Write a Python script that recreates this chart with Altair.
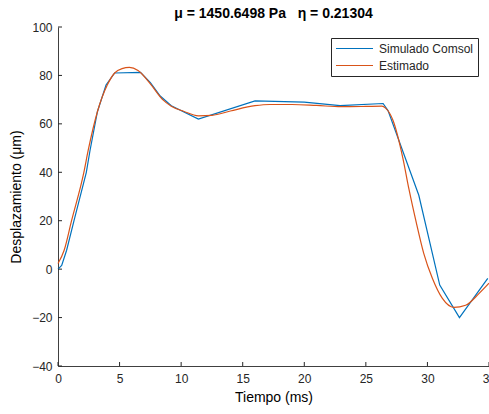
import altair as alt
import pandas as pd

# Simulated displacement (COMSOL), piecewise linear samples
sim_t = [0, 0.3, 0.7, 1.3, 2.3, 2.6, 3.2, 3.9, 4.6, 6.7, 7.5, 8.3, 9.2, 11.4,
         16.0, 20.0, 22.9, 26.4, 26.8, 29.3, 31.0, 32.6, 34.9]
sim_y = [0, 1.5, 7.8, 20, 40, 49, 65, 76, 81, 81.3, 77, 71.5, 67.5, 62,
         69.5, 69, 67.5, 68.4, 65.5, 30.5, -6.6, -20, -3.8]

# Estimated displacement (fitted model)
est_t = [0, 0.5, 1.1, 2.1, 2.45, 3.2, 4.0, 4.6, 5.2, 5.8, 6.5, 7.5, 8.5, 9.2,
         10.2, 11.4, 12.5, 14, 16, 17.2, 19, 21, 23, 25, 26.3, 26.6, 27.2, 28,
         28.5, 29.06, 29.7, 30.4, 31.2, 32.15, 33.1, 34.2, 35]
est_y = [2.3, 7.8, 20, 40, 49, 65, 76, 81, 82.8, 83.3, 82, 76.5, 70, 67.3,
         65.2, 63.3, 63.5, 65.3, 67.5, 68, 68, 67.6, 67.1, 67.2, 67.3, 66.5, 61.5, 46,
         33, 20, 6.5, -3.8, -12, -15.8, -14.9, -10, -5.8]

x_ticks = [0, 5, 10, 15, 20, 25, 30, 35]
y_ticks = [-40, -20, 0, 20, 40, 60, 80, 100]

series = ["Simulado Comsol", "Estimado"]
colors = ["#0072BD", "#D95319"]

W, H = 431, 339
FONT = "Liberation Sans"
AX = "#262626"

sim = pd.DataFrame({"t": sim_t, "d": sim_y, "serie": series[0]})
est = pd.DataFrame({"t": est_t, "d": est_y, "serie": series[1]})
xt = pd.DataFrame({"t": x_ticks})
yt = pd.DataFrame({"d": y_ticks})

x_scale = alt.Scale(domain=[0, 35], nice=False, zero=False)
y_scale = alt.Scale(domain=[-40, 100], nice=False, zero=False)

axis_style = dict(
    tickSize=0, grid=False, labelFlush=False,
    labelFont=FONT, labelFontSize=12, labelColor=AX,
    titleFont=FONT, titleFontSize=14, titleFontWeight="normal", titleColor="black",
    domainColor="#404040", domainWidth=1,
)
x_axis = alt.Axis(title="Tiempo (ms)", values=x_ticks, labelPadding=7,
                  titlePadding=6, **axis_style)
y_axis = alt.Axis(title="Desplazamiento (μm)", values=y_ticks, labelPadding=6,
                  titlePadding=8, **axis_style)

color = alt.Color(
    "serie:N",
    scale=alt.Scale(domain=series, range=colors),
    legend=alt.Legend(
        title=None, orient="none", legendX=273, legendY=11,
        symbolType="stroke", symbolSize=1369, symbolStrokeWidth=1.2,
        strokeColor=AX, fillColor="white", padding=4,
        labelFont=FONT, labelFontSize=12, labelColor=AX, labelOffset=5,
        clipHeight=13, rowPadding=4,
    ),
)

sim_line = alt.Chart(sim).mark_line(strokeWidth=1.2).encode(
    x=alt.X("t:Q", scale=x_scale, axis=x_axis),
    y=alt.Y("d:Q", scale=y_scale, axis=y_axis),
    color=color,
)

est_line = alt.Chart(est).mark_line(strokeWidth=1.2, interpolate="monotone").encode(
    x=alt.X("t:Q", scale=x_scale),
    y=alt.Y("d:Q", scale=y_scale),
    color=color,
)

# inward tick marks on both axes
x_tick_marks = alt.Chart(xt).mark_rule(color=AX, strokeWidth=1).encode(
    x=alt.X("t:Q", scale=x_scale),
    y=alt.value(H),
    y2=alt.value(H - 4),
)
y_tick_marks = alt.Chart(yt).mark_rule(color=AX, strokeWidth=1).encode(
    y=alt.Y("d:Q", scale=y_scale),
    x=alt.value(0),
    x2=alt.value(4),
)

chart = alt.layer(sim_line, est_line, x_tick_marks, y_tick_marks).properties(
    width=W,
    height=H,
    background="white",
    title=alt.Title("μ = 1450.6498 Pa\u00a0\u00a0\u00a0η = 0.21304", font=FONT, fontSize=14,
                    fontWeight="bold", color="black", anchor="middle", offset=0),
    autosize=alt.AutoSizeParams(type="none"),
    padding={"left": 58, "top": 27, "right": 0, "bottom": 48},
).configure_view(stroke=None)

chart.save("out.html", embed_options={"renderer": "svg", "actions": False})
